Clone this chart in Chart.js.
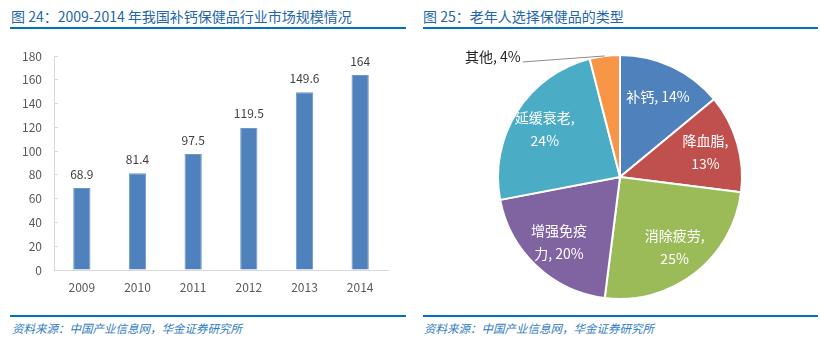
<!DOCTYPE html>
<html>
<head>
<meta charset="utf-8">
<script src="https://cdn.jsdelivr.net/npm/chart.js@4.4.1/dist/chart.umd.min.js"></script>
<style>
    body { margin: 0; background: #fff; }
    #page { position: relative; width: 820px; height: 342px; overflow: hidden; font-family: "Noto Sans CJK SC", "Noto Sans", sans-serif; }
    .title { position: absolute; top: 6px; font-size: 14px; line-height: 20px; color: #2366ad; white-space: nowrap; }
    .rule { position: absolute; height: 2px; background: #0070c0; }
    .source { position: absolute; top: 320px; font-size: 11.5px; line-height: 17px; color: #2f7cc4; font-style: italic; white-space: nowrap; }
    canvas { position: absolute; }
</style>
</head>
<body>
<div id="page">
    <div class="title" style="left:11px;">图 24：2009-2014 年我国补钙保健品行业市场规模情况</div>
    <div class="rule" style="left:10px; top:27px; width:396px;"></div>
    <div class="title" style="left:423px;">图 25：老年人选择保健品的类型</div>
    <div class="rule" style="left:423px; top:27px; width:395px;"></div>

    <canvas id="barChart" width="410" height="265" style="left:0; top:40px;"></canvas>
    <canvas id="pieChart" width="410" height="270" style="left:410px; top:40px;"></canvas>

    <div class="rule" style="left:10px; top:315px; width:396px;"></div>
    <div class="source" style="left:12px;">资料来源：中国产业信息网，华金证券研究所</div>
    <div class="rule" style="left:423px; top:315px; width:395px;"></div>
    <div class="source" style="left:424px;">资料来源：中国产业信息网，华金证券研究所</div>
</div>

<script>
// Figure 24: market size by year
const years = ['2009', '2010', '2011', '2012', '2013', '2014'];
const marketSize = [68.9, 81.4, 97.5, 119.5, 149.6, 164];
const yMax = 180;
const yStep = 20;

// Figure 25: types of health products chosen by the elderly (%)
const pieNames = ['补钙', '降血脂', '消除疲劳', '增强免疫力', '延缓衰老', '其他'];
const pieShares = [14, 13, 25, 20, 24, 4];
const pieColors = ['#4f81bd', '#c0504d', '#9bbb59', '#8064a2', '#4bacc6', '#f79646'];
// where each label wraps onto a second line (0 = no wrap)
const pieWrapAt = [0, 4, 5, 4, 5, 0];

const FONT = '"Noto Sans CJK SC", "Noto Sans", sans-serif';

const barValueLabels = {
    id: 'barValueLabels',
    afterDatasetsDraw(chart) {
        const ctx = chart.ctx;
        const meta = chart.getDatasetMeta(0);
        ctx.save();
        ctx.font = '12px ' + FONT;
        ctx.fillStyle = '#404040';
        ctx.textAlign = 'center';
        ctx.textBaseline = 'middle';
        meta.data.forEach((bar, i) => {
            ctx.fillText(String(marketSize[i]), bar.x, bar.y - 14);
        });
        ctx.restore();
    }
};

new Chart(document.getElementById('barChart'), {
    type: 'bar',
    data: {
        labels: years,
        datasets: [{
            data: marketSize,
            backgroundColor: '#4f81bd',
            borderColor: '#6f97c9',
            borderWidth: 1,
            barPercentage: 0.31,
            categoryPercentage: 1
        }]
    },
    options: {
        responsive: false,
        animation: false,
        layout: { padding: { top: 16, right: 22, left: 0, bottom: 0 } },
        plugins: { legend: { display: false }, tooltip: { enabled: false } },
        scales: {
            x: {
                grid: { display: true, drawOnChartArea: false, drawTicks: false },
                border: { display: true, color: '#d9d9d9', width: 1 },
                ticks: { color: '#595959', font: { family: FONT, size: 12 }, padding: 10 },
                afterFit: s => { s.height = 35; }
            },
            y: {
                min: 0,
                max: yMax,
                grid: { drawOnChartArea: false, tickLength: -4, color: '#d9d9d9' },
                border: { display: true, color: '#d9d9d9', width: 1 },
                ticks: { stepSize: yStep, color: '#595959', font: { family: FONT, size: 12 }, padding: 16 },
                afterFit: s => {
                    s.width = 54;
                    s.paddingTop = 0;
                    s.paddingBottom = 0;
                }
            }
        }
    },
    plugins: [barValueLabels]
});

const pieLabels = {
    id: 'pieLabels',
    afterDatasetsDraw(chart) {
        const ctx = chart.ctx;
        const meta = chart.getDatasetMeta(0);
        ctx.save();
        ctx.font = '14px ' + FONT;
        ctx.textBaseline = 'middle';
        meta.data.forEach((arc, i) => {
            const mid = (arc.startAngle + arc.endAngle) / 2;
            const r = arc.outerRadius;
            const text = pieNames[i] + ', ' + pieShares[i] + '%';
            if (i === pieNames.length - 1) {
                // small slice: label outside with a leader line
                const ox = arc.x + Math.cos(mid) * r;
                const oy = arc.y + Math.sin(mid) * r;
                ctx.strokeStyle = '#8c8c8c';
                ctx.lineWidth = 1;
                ctx.beginPath();
                ctx.moveTo(ox - 82, oy + 6);
                ctx.lineTo(ox, oy);
                ctx.stroke();
                ctx.fillStyle = '#262626';
                ctx.textAlign = 'right';
                ctx.fillText(text, ox - 84, oy + 1);
                return;
            }
            const lx = arc.x + Math.cos(mid) * r * 0.73;
            const ly = arc.y + Math.sin(mid) * r * 0.73;
            const cut = pieWrapAt[i];
            const lines = cut ? [text.slice(0, cut).trim(), text.slice(cut).trim()] : [text];
            ctx.fillStyle = '#ffffff';
            ctx.textAlign = 'center';
            const lh = 23;
            lines.forEach((line, k) => {
                ctx.fillText(line, lx, ly + (k - (lines.length - 1) / 2) * lh);
            });
        });
        ctx.restore();
    }
};

new Chart(document.getElementById('pieChart'), {
    type: 'pie',
    data: {
        labels: pieNames,
        datasets: [{
            data: pieShares,
            backgroundColor: pieColors,
            borderColor: '#ffffff',
            borderWidth: 2
        }]
    },
    options: {
        responsive: false,
        animation: false,
        radius: 122,
        layout: { padding: { top: 4, left: 10, right: 0, bottom: 0 } },
        plugins: { legend: { display: false }, tooltip: { enabled: false } }
    },
    plugins: [pieLabels]
});
</script>
</body>
</html>
